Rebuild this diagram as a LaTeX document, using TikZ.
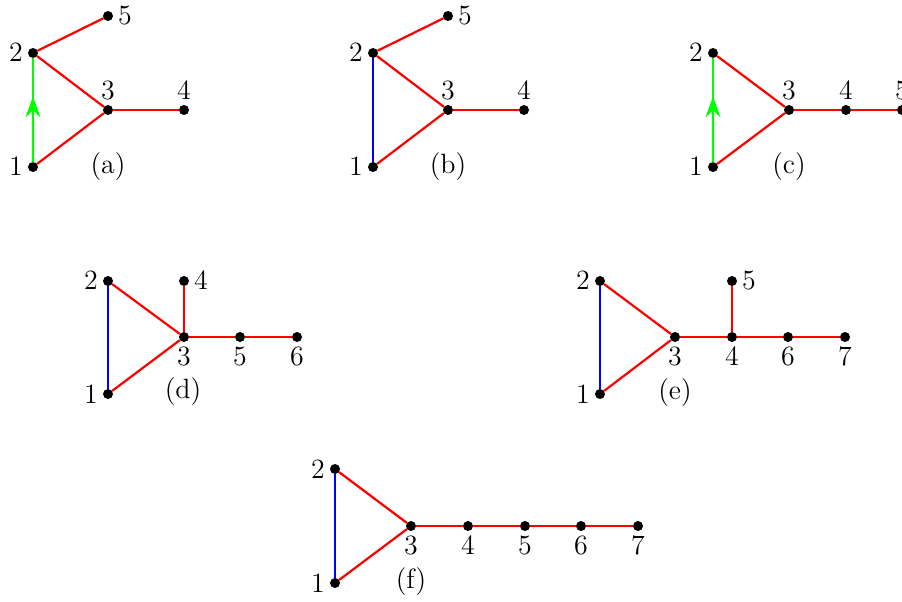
\documentclass[tikz,border=0pt]{standalone}
\usepackage{amsmath,amssymb}
\usepackage{tikz}
\usetikzlibrary{arrows.meta,calc}
\usepackage{xcolor}

\begin{document}
\begin{tikzpicture}[x=0.43pt,y=-0.43pt,line cap=round,font=\fontsize{12pt}{14pt}\selectfont,
  dot/.style={circle,fill=black,inner sep=0pt,minimum size=4.3pt},
  every label/.style={inner sep=1pt},label distance=0.8pt,
  tree/.style={red,line width=0.95pt},
  chord/.style={blue,line width=0.95pt},
  cut/.style={green,line width=0.95pt},
  >={Stealth[length=9pt,width=6.4pt,inset=3pt]}]
\useasboundingbox (0,0) rectangle (902,601);
% (a)
\node[dot,label=left:$1$] (a1) at (33,167) {};
\node[dot,label=left:$2$] (a2) at (33,53) {};
\node[dot,label=above:$3$] (a3) at (108,110) {};
\node[dot,label=above:$4$] (a4) at (184,110) {};
\node[dot,label=right:$5$] (a5) at (108,16) {};
\node (acap) at (108,167) {(a)};
\coordinate (amid) at ($(a1)!0.62!(a2)$);
\draw[tree] (a2) -- (a5);
\draw[tree] (a2) -- (a3);
\draw[tree] (a1) -- (a3);
\draw[tree] (a3) -- (a4);
\draw[cut] (a1) -- (a2);
\draw[cut,->] (a1) -- (amid);
% (b)
\node[dot,label=left:$1$] (b1) at (373,167) {};
\node[dot,label=left:$2$] (b2) at (373,53) {};
\node[dot,label=above:$3$] (b3) at (448,110) {};
\node[dot,label=above:$4$] (b4) at (524,110) {};
\node[dot,label=right:$5$] (b5) at (448,16) {};
\node (bcap) at (448,167) {(b)};
\draw[tree] (b2) -- (b5);
\draw[tree] (b2) -- (b3);
\draw[tree] (b1) -- (b3);
\draw[tree] (b3) -- (b4);
\draw[chord] (b1) -- (b2);
% (c)
\node[dot,label=left:$1$] (c1) at (713,167) {};
\node[dot,label=left:$2$] (c2) at (713,53) {};
\node[dot,label=above:$3$] (c3) at (789,110) {};
\node[dot,label=above:$4$] (c4) at (846,110) {};
\node[dot,label=above:$5$] (c5) at (902,110) {};
\node (ccap) at (789,167) {(c)};
\coordinate (cmid) at ($(c1)!0.62!(c2)$);
\draw[tree] (c2) -- (c3);
\draw[tree] (c1) -- (c3);
\draw[tree] (c3) -- (c4);
\draw[tree] (c4) -- (c5);
\draw[cut] (c1) -- (c2);
\draw[cut,->] (c1) -- (cmid);
% (d)
\node[dot,label=left:$1$] (d1) at (108,394) {};
\node[dot,label=left:$2$] (d2) at (108,281) {};
\node[dot,label=below:$3$] (d3) at (184,337) {};
\node[dot,label=right:$4$] (d4) at (184,281) {};
\node[dot,label=below:$5$] (d5) at (240,337) {};
\node[dot,label=below:$6$] (d6) at (297,337) {};
\node (dcap) at (183,392) {(d)};
\draw[tree] (d2) -- (d3);
\draw[tree] (d1) -- (d3);
\draw[tree] (d3) -- (d4);
\draw[tree] (d3) -- (d5);
\draw[tree] (d5) -- (d6);
\draw[chord] (d1) -- (d2);
% (e)
\node[dot,label=left:$1$] (e1) at (600,394) {};
\node[dot,label=left:$2$] (e2) at (600,281) {};
\node[dot,label=below:$3$] (e3) at (675,337) {};
\node[dot,label=below:$4$] (e4) at (732,337) {};
\node[dot,label=right:$5$] (e5) at (732,281) {};
\node[dot,label=below:$6$] (e6) at (788,337) {};
\node[dot,label=below:$7$] (e7) at (845,337) {};
\node (ecap) at (675,393) {(e)};
\draw[tree] (e2) -- (e3);
\draw[tree] (e1) -- (e3);
\draw[tree] (e3) -- (e4);
\draw[tree] (e4) -- (e5);
\draw[tree] (e4) -- (e6);
\draw[tree] (e6) -- (e7);
\draw[chord] (e1) -- (e2);
% (f)
\node[dot,label=left:$1$] (f1) at (335,583) {};
\node[dot,label=left:$2$] (f2) at (335,469) {};
\node[dot,label=below:$3$] (f3) at (411,526) {};
\node[dot,label=below:$4$] (f4) at (468,526) {};
\node[dot,label=below:$5$] (f5) at (525,526) {};
\node[dot,label=below:$6$] (f6) at (581,526) {};
\node[dot,label=below:$7$] (f7) at (638,526) {};
\node (fcap) at (411,582) {(f)};
\draw[tree] (f2) -- (f3);
\draw[tree] (f1) -- (f3);
\draw[tree] (f3) -- (f4);
\draw[tree] (f4) -- (f5);
\draw[tree] (f5) -- (f6);
\draw[tree] (f6) -- (f7);
\draw[chord] (f1) -- (f2);
\end{tikzpicture}
\end{document}
